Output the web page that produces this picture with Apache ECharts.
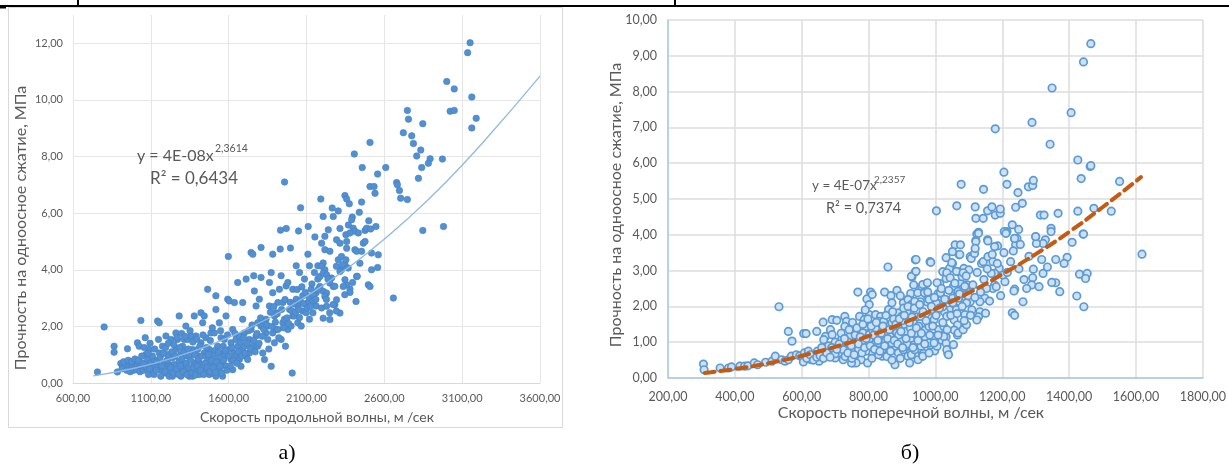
<!DOCTYPE html>
<html><head><meta charset="utf-8">
<script src="https://cdn.jsdelivr.net/npm/echarts@6/dist/echarts.min.js"></script>
<style>html,body{margin:0;padding:0;background:#fff}#c{width:1229px;height:467px}</style>
</head><body><div id="c"></div>
<script>
// ---------- Chart а): P-wave velocity vs strength ----------
const leftXAxisRange = [600, 3600, 500];
const leftYAxisRange = [0, 13, 2];
const leftXTitle = 'Скорость продольной волны, м /сек';
const leftYTitle = 'Прочность на одноосное сжатие, МПа';
const leftEquation = 'y = 4E-08x';
const leftExponent = '2,3614';
const leftR2 = 'R² = 0,6434';
const leftPoints = [
[757,0.39],[800,1.98],[864,1.30],[864,1.09],[885,0.39],
[907,0.69],[918,0.62],[928,0.53],[939,0.65],[961,0.59],[971,0.53],[982,0.62],[993,0.69],[1003,0.59],[950,1.21],[1014,1.42],[1025,1.30],
[1014,0.62],[1025,0.53],[1036,0.59],[1036,2.21],[1046,0.71],[1064,1.60],[1068,1.01],[1079,0.83],[1089,1.18],[1089,0.65],[1100,0.71],[1100,0.41],[1085,0.30],[1106,0.53],
[1121,0.30],[1121,0.83],[1132,0.59],[1143,2.19],[1149,1.54],[1154,2.13],[1154,1.06],[1164,0.47],[1175,1.30],[1186,0.71],[1197,1.66],[1197,0.35],[1207,1.01],[1207,0.59],[1218,0.65],[1218,0.24],[1164,0.24],
[1229,0.41],[1229,1.54],[1239,0.24],[1239,0.89],[1250,0.65],[1261,1.77],[1261,1.18],[1272,1.54],[1272,0.47],[1282,2.37],[1282,0.77],[1293,1.01],[1293,0.24],[1304,1.30],[1304,0.53],[1315,0.65],[1315,1.54],[1325,2.01],[1325,0.35],
[1336,1.54],[1336,0.95],[1347,0.95],[1347,0.24],[1358,0.47],[1358,1.66],[1368,0.24],[1368,1.18],[1379,2.37],[1379,0.71],[1390,1.66],[1390,0.41],[1400,1.18],[1400,0.95],[1411,0.71],[1411,0.30],[1422,2.48],[1422,1.42],[1433,2.13],[1433,0.59],
[1443,2.37],[1443,1.06],[1454,1.60],[1454,0.41],[1465,3.31],[1465,0.83],[1476,1.18],[1476,0.30],[1486,0.71],[1486,1.77],[1497,0.35],[1497,1.01],[1508,1.77],[1508,0.65],[1518,2.60],[1518,3.08],[1518,0.24],[1529,1.30],[1529,0.89],[1540,2.13],[1540,0.47],
[1551,1.60],[1551,0.71],[1561,0.24],[1561,1.06],[1572,0.95],[1572,1.54],[1583,2.37],[1583,0.59],[1594,2.96],[1598,4.47],[1604,2.90],[1604,1.18],[1615,1.42],[1615,0.83],[1626,1.89],[1626,0.47],[1637,2.84],[1637,1.06],[1647,0.95],[1647,1.54],
[1658,3.55],[1658,1.30],[1669,1.66],[1669,0.83],[1679,0.59],[1690,2.84],[1690,2.25],[1690,1.18],[1701,1.30],[1701,1.77],[1712,3.67],[1712,0.95],[1722,0.83],[1733,1.54],[1733,1.06],[1744,4.61],[1755,4.55],[1744,1.89],[1755,1.30],
[1761,3.79],[1765,3.25],[1776,2.72],[1776,1.66],[1787,1.30],[1787,2.13],[1797,2.96],[1808,3.73],[1808,4.79],[1808,2.01],[1819,2.01],[1819,1.06],[1830,0.83],[1830,2.19],[1840,2.25],[1840,1.77],[1851,1.54],[1851,2.01],[1862,2.72],[1862,3.55],
[1873,0.59],[1873,3.90],[1883,4.55],[1883,3.19],[1883,1.77],[1894,1.42],[1894,2.37],[1905,2.48],[1905,1.89],[1916,1.89],[1916,2.84],[1926,3.31],[1931,4.73],[1937,3.79],[1937,1.54],[1948,2.84],[1948,2.13],[1958,2.25],[1965,1.30],[1969,3.43],
[1980,3.55],[1980,1.89],[1991,2.60],[1997,4.77],[2001,2.01],[2008,0.35],[2012,3.31],[2012,2.37],[2023,2.37],[2034,4.14],[2034,2.96],[2044,2.72],[2044,2.13],[2055,3.90],[2055,2.31],[2066,2.01],[2076,3.08],[2076,2.54],
[2087,3.67],[2098,2.48],[2109,4.55],[2109,2.84],[2119,4.14],[2119,2.25],[2130,3.31],[2141,2.90],[2141,2.48],[2151,3.90],[2162,2.72],[2162,3.19],[2173,3.67],[2173,4.14],
[1959,7.10],[1933,5.40],[1970,5.46],[2049,5.37],[2062,6.19],
[2658,3.00],[2518,4.00],[2557,4.08],[2561,4.53],[2518,4.59],[2497,3.47],[2508,3.41],[2418,2.88],[2379,3.32],[2379,3.20],[2396,3.55],[2422,3.76],[2347,3.65],[2358,3.47],[2336,3.41],[2325,4.00],[2315,3.94],[2347,4.18],[2304,4.35],[2325,4.47],[2358,4.76],[2358,5.00],[2411,4.71],[2422,4.65],[2465,4.94],[2476,5.00],[2454,4.65],[2293,5.06],[2315,4.94],[2218,4.71],[2250,4.65],[2207,4.24],[2197,4.12],[2218,4.00],[2186,3.76],[2207,3.88],[2229,3.82],[2261,3.71],[2250,3.53],[2272,3.41],[2186,3.41],[2207,3.24],[2229,3.18],[2218,3.06],[2197,2.65],[2229,2.71],[2207,2.29],[2250,2.24],[2315,2.47],[2282,2.76],[2293,2.94],[2197,4.94],[2218,5.18],[2240,5.41],
[2238,3.67],[2282,3.42],[2292,4.12],[2331,4.18],[2368,4.06],[2353,4.35],[2346,3.12],[2426,3.77],[2443,4.23],[2271,2.77],[2249,2.48],[2292,2.54],[2228,2.95],
[3151,12.02],[3135,11.67],[3001,10.65],[3049,10.39],[3162,10.10],[3023,9.60],[3049,9.63],[3190,9.35],[3162,9.01],[2748,9.63],[2755,9.32],[2847,9.16],[2722,8.84],[2776,8.73],[2787,8.46],[2834,8.23],[2808,8.02],[2894,7.92],[2883,7.76],[2840,7.61],[2973,7.91],[2819,7.23],[2679,7.08],[2684,7.00],[2697,6.80],[2705,6.53],[2748,6.48],[2508,8.50],[2407,8.09],[2458,7.61],[2609,7.61],[2557,7.38],[2508,6.94],[2534,6.94],[2540,6.70],[2192,6.50],[2347,6.62],[2358,6.50],[2375,6.33],[2454,6.39],[2265,6.18],[2304,6.08],[2272,5.88],[2207,5.88],[2439,6.03],[2394,5.86],[2390,5.77],[2500,5.73],[2111,5.53],[2154,5.16],[2315,5.46],[2369,5.58],[2400,5.47],[2411,5.36],[2433,5.30],[2476,5.39],[2486,5.47],[2512,5.44],[2546,5.53],[2353,5.24],[2379,5.30],[2847,5.39],[2980,5.53],
[1110,0.95],[1125,1.20],[1135,0.45],[1140,0.75],[1160,0.90],[1170,0.60],[1180,1.05],[1190,0.40],[1195,1.25],[1205,0.80],[1212,1.40],[1225,0.55],[1235,1.10],[1245,0.35],[1248,1.35],[1255,0.95],[1265,0.50],[1268,1.60],[1278,0.30],[1285,1.25],[1290,0.60],[1298,1.75],[1300,0.85],[1310,0.40],[1312,1.10],[1320,1.65],[1328,0.70],[1332,0.30],[1340,1.20],[1345,0.55],[1352,1.85],[1355,0.80],[1362,0.35],[1370,1.45],[1375,0.55],[1382,1.00],[1385,0.28],[1395,1.55],[1398,0.60],[1405,0.85],[1415,1.30],[1418,0.45],[1428,0.95],[1435,1.70],[1440,0.30],[1448,0.70],[1458,1.25],[1462,0.55],[1470,1.00],[1480,0.40],[1482,1.50],[1490,0.80],[1495,1.95],[1502,0.55],[1512,1.15],[1515,0.38],[1522,0.75],[1535,1.10],[1545,0.60],[1548,1.85],[1555,0.35],[1565,1.30],[1568,0.80],[1578,1.15],[1588,0.45],[1592,1.70],[1600,0.95],[1610,0.60],[1620,1.25],[1630,0.80],[1640,1.75],[1652,0.70],[1662,1.10],[1675,1.45],[1685,0.95],[1695,1.60],[1705,1.05],[1718,1.40],[1728,1.85],[1740,1.20],[1750,2.05],[1760,1.50],[1770,1.10],[1782,1.75],[1795,1.40],[1805,2.30],[1815,1.65],[1825,1.90],[1845,2.05],[1858,1.20],[1868,2.50],[1878,2.00],[1890,2.70],[1900,2.15],[1912,2.45],[1922,1.60],[1940,2.60],[1952,1.95],[1962,2.95],[1975,2.30],[1985,2.10],[1995,2.85],[2005,2.55],[2018,2.80],[2030,2.50],[2040,3.30],[2050,2.60],[2060,2.90],[2070,3.40],[2082,2.80],[2092,3.20],[2105,2.65],[2115,3.05],[2125,2.70],[2135,3.50],[2145,3.10],[2160,2.95],[2175,3.30],
[915,0.50],[925,0.75],[945,0.45],[955,0.80],[968,0.40],[978,0.75],[990,0.45],[998,0.85],[1008,0.48],[1020,0.80],[1030,0.40],[1042,0.95],[1052,0.45],[1058,1.25],[1072,0.55],[1082,1.05],[1092,0.50],[1095,1.40]
];
const leftTrend = [[730,0.25],[1000,0.53],[1250,0.90],[1500,1.38],[1750,1.99],[2000,2.73],[2250,3.61],[2500,4.63],[2750,5.80],[3000,7.12],[3250,8.60],[3600,10.84]];

// ---------- Chart б): S-wave velocity vs strength ----------
const rightXAxisRange = [200, 1800, 200];
const rightYAxisRange = [0, 10, 1];
const rightXTitle = 'Скорость поперечной волны, м /сек';
const rightYTitle = 'Прочность на одноосное сжатие, МПа';
const rightEquation = 'y = 4E-07x';
const rightExponent = '2,2357';
const rightR2 = 'R² = 0,7374';
const rightPoints = [
[1465,9.34],[1443,8.83],[1349,8.10],[1406,7.41],[1179,6.96],[1289,7.14],[1343,6.53],[1426,6.09],[1463,5.91],[1465,5.93],[1436,5.57],[1551,5.49],[1205,5.75],[1214,5.41],[1077,5.41],[1144,5.27],[1247,5.18],[1278,5.34],[1291,5.38],[1293,5.52],[1003,4.67],[1064,4.81],[1119,4.78],[1121,4.46],[1143,4.46],[1156,4.67],[1169,4.78],[1179,4.55],[1194,4.60],[1194,4.72],[1240,4.77],[1260,4.88],[1314,4.55],[1325,4.55],[1367,4.60],[1426,4.66],[1474,4.74],[1526,4.66],[1230,4.28],[1249,4.15],[1214,4.09],[1211,4.05],[1129,4.07],[1124,4.02],[1346,4.18],[1442,4.02],[1300,3.94],[1329,3.86],[1237,3.89],[1156,3.86],[1121,3.84],
[1618,3.46],[1443,4.02],[1409,3.79],[1394,3.37],[1385,3.20],[1431,2.90],[1454,2.92],[1449,2.78],[1423,2.29],[1444,1.99],[1372,2.41],[1360,2.66],[1348,2.67],[1322,2.92],[1360,3.31],[1346,4.09],[1322,3.76],[1302,3.76],[1300,3.95],[1318,3.31],[1293,3.04],[1291,2.80],[1288,2.60],[1273,2.50],[1262,2.13],[1237,2.48],[1235,2.43],[1230,1.82],[1237,1.75],[1208,2.69],[1201,2.88],[1191,3.06],[1177,2.92],[1186,3.69],[1177,3.67],[1157,3.83],[1138,3.20],[1143,3.25],[1206,4.09],[1211,4.04],[1240,3.72],[1233,3.55],[1244,3.90],[1254,3.73],[1237,3.90],[1129,4.04],[1121,3.81],[1157,3.39],[1172,3.25],[1167,2.92],[1177,2.60],[1172,2.50],[1182,2.55],[1153,2.50],[1148,2.23],[1133,2.13],[1133,1.85],[1150,1.81],[1129,1.71],[1124,1.62],[1109,1.90],[1104,2.13],[1090,2.18],[1095,2.41],[1075,2.64],[1061,2.46],[1051,2.23],[1069,2.23],[1056,1.99],[1042,1.90],[1027,1.85],[1059,3.72],[1071,3.44],[1051,3.20],[1042,3.06],[1022,2.97],[1032,2.78],[1013,2.64],[1104,3.39],[1107,3.34],[1085,3.06],[1100,3.02],[1066,2.97],[1080,2.83],[1075,2.46],[1095,2.60],[1032,2.18],[1017,2.27],[1008,2.36],[1022,1.99],[1003,2.09],[993,1.90],[988,1.67],[979,1.53],[1056,1.62],[1066,1.48],[1056,1.34],[1066,1.20],[1032,1.15],[1017,1.06],[998,1.06],[1032,0.97],[1037,0.69],[998,0.76],[984,0.92],[969,1.15],[964,1.34],[964,0.69],[959,0.60],[940,3.30],[940,2.97],[930,2.83],[935,2.60],[959,2.55],[974,2.64],[969,2.36],[974,2.13],[955,2.13],[984,3.25],[926,2.36],[916,2.18],[940,2.09],[926,1.90],[911,1.71],[945,1.71],[935,1.53],[955,1.34],[969,1.34],[945,1.15],[926,1.06],[935,0.92],[930,0.78],[921,0.69],[940,0.64],[1075,3.72],[1051,3.53],[1117,3.48],[1119,3.62],
[306,0.39],[308,0.23],[356,0.28],[381,0.28],[390,0.31],[415,0.33],[429,0.33],[439,0.34],[458,0.42],[468,0.37],[492,0.44],[511,0.47],[521,0.61],[540,0.51],[550,0.47],[560,0.51],[569,0.61],[584,0.65],[594,0.62],[603,0.56],[608,0.70],[618,0.61],[628,0.51],[637,0.62],[647,0.75],[652,0.47],[661,0.70],[671,0.79],[676,0.61],[686,0.70],[695,0.79],[700,0.56],[710,0.70],
[532,1.99],[560,1.30],[571,1.03],[606,1.24],[613,1.24],[645,1.30],[664,1.56],[691,1.63],[705,1.61],[686,1.35],[671,1.16],[666,1.07],[691,1.21],
[729,1.72],[734,1.58],[729,1.44],[754,1.44],[758,1.30],[744,1.16],[763,1.07],[734,0.98],[715,0.89],[724,0.79],[744,0.70],[754,0.84],[763,0.61],[778,0.51],[754,0.42],[724,0.51],
[768,2.40],[795,2.21],[806,2.40],[811,2.33],[802,2.05],[848,2.40],[867,2.30],[858,3.10],
[773,1.72],[787,1.63],[802,1.77],[821,1.77],[836,1.72],[831,1.58],[816,1.49],[792,1.44],[783,1.26],[802,1.21],[826,1.30],[841,1.35],[855,1.44],[870,1.54],[879,1.72],[860,1.91],[889,1.82],[899,1.72],
[802,1.07],[816,0.93],[831,0.98],[841,0.79],[860,0.84],[879,0.89],[889,0.70],[904,0.79],[918,0.61],[928,0.65],[938,0.79],[948,0.51],[923,0.42],[879,0.37],[841,0.61],[811,0.70],[792,0.75],[763,0.42],[749,0.42],[797,0.42],
[904,2.10],[918,2.19],[928,2.05],[938,2.14],[947,2.38],[928,2.84],[942,2.98],[942,3.31],[986,3.23],[962,2.61],[976,2.66],[967,2.38],[981,2.19],[1005,2.66],[1015,2.38],[1032,3.36],[1049,3.22],[1073,3.45],[1063,2.98],[1034,2.94],[1044,2.80],[1054,2.56],[1083,2.94],[1088,2.56],[1093,2.33],[1068,2.42],
[957,1.72],[981,1.44],[996,1.63],[1010,1.35],[1034,1.72],[1025,1.44],[996,1.16],[981,0.98],[1005,0.89],[1034,0.79],[1054,0.93],[1068,1.26],[1083,1.35],[1093,1.49],[1088,1.77],[1063,1.91],[1093,2.10],[957,0.89],[962,0.61],[981,0.70],[996,0.98],[1025,1.16],[1039,0.65],
[812,1.35],[826,1.12],[850,1.02],[865,1.16],[884,1.26],[894,1.40],[909,1.49],[913,1.30],[899,1.07],[870,0.98],[846,1.21],[821,1.40],[845,1.58],[875,1.65],[900,1.60],[915,1.85],[930,1.70],[925,1.40],[940,1.25],[950,1.45],[885,2.45],[895,2.30],[870,2.10],[905,1.95],[790,1.90],[760,1.20],[740,1.00],[720,1.10],[700,1.00],[680,0.90],[660,0.85],[640,0.65],[620,0.75],[700,0.68],[730,0.60],[750,0.55],[770,0.80],[785,1.00],[810,0.55],[830,0.65],[855,0.60],[870,0.50],[895,0.55],[915,0.95],[890,1.20],
[605,0.45],[615,0.55],[625,0.65],[635,0.50],[645,0.58],[655,0.62],[665,0.55],[675,0.70],[685,0.58],[690,0.85],[705,0.80],[712,0.95],[718,1.25],[728,1.10],[738,0.70],[742,1.35],[748,0.90],[752,1.55],[757,0.65],[765,1.40],[770,0.95],[775,1.15],[780,0.70],[783,1.50],[788,0.85],[793,1.10],[798,1.65],[805,0.90],[808,1.45],[815,1.20],[818,0.80],[823,1.55],[828,1.05],[834,0.75],[838,1.25],[843,1.45],[848,0.90],[852,1.75],[857,1.10],[862,1.35],[866,0.75],[872,1.85],[877,1.05],[882,1.50],[887,0.95],[892,1.65],[897,1.30],[902,0.85],[907,1.75],[912,1.10],[918,2.00],[922,1.55],[928,1.25],[933,0.85],[937,1.95],[943,1.40],[948,1.05],[953,2.05],[958,1.25],[963,1.85],[968,0.95],[972,1.60],[977,2.40],[983,1.20],[988,2.00],[992,1.45],[997,2.25],[1002,1.75],[1008,1.20],[1012,1.95],[1018,2.50],[1022,1.55],[1028,2.20],[1035,1.35],[1040,2.45],[1046,1.75],[1052,2.10],[1058,2.65],[1065,1.80],[1072,2.35],[1080,2.00],[1086,1.60],[1092,2.85],[1098,2.30],[1105,1.75],[1112,2.60],[1118,2.25],[1125,2.95],[1135,2.40],[1145,2.75],[1155,3.05],[1162,2.15],[1170,3.45],[1185,3.20],[1195,2.30],[1205,3.50],[1215,2.95],[1225,3.25],[1250,3.05],[1265,2.75],[1280,3.40],[1310,2.55],[1335,3.10]
];
const rightTrend = [[310,0.14],[400,0.25],[500,0.41],[600,0.62],[700,0.87],[800,1.17],[900,1.52],[1000,1.93],[1100,2.38],[1200,2.90],[1300,3.46],[1400,4.08],[1500,4.77],[1615,5.61]];

// ---------- rendering ----------
const FONT = 'Lato, "Open Sans", sans-serif';
const GREY = '#595959';
const fmt = v => v.toFixed(2).replace('.', ',');

const chart = echarts.init(document.getElementById('c'), null, {renderer: 'canvas'});

function txt(text, x, y, size, extra) {
  return Object.assign({
    type: 'text', x: x, y: y, silent: true, z: 50,
    style: Object.assign({text: text, fill: GREY, fontSize: size, fontFamily: FONT, align: 'left', verticalAlign: 'middle'}, extra && extra.style)
  }, extra && extra.el);
}

chart.setOption({
  animation: false,
  backgroundColor: '#fff',
  grid: [
    {left: 73, top: 15, width: 467, height: 368, containLabel: false},
    {left: 668, top: 20, width: 554, height: 358, containLabel: false}
  ],
  xAxis: [
    {type: 'value', gridIndex: 0, min: leftXAxisRange[0], max: leftXAxisRange[1], interval: leftXAxisRange[2],
     axisLine: {show: true, lineStyle: {color: '#d9d9d9'}}, axisTick: {show: false},
     splitLine: {show: true, lineStyle: {color: '#e6e6e6'}},
     axisLabel: {color: GREY, fontSize: 11, fontFamily: FONT, margin: 10, formatter: fmt}},
    {type: 'value', gridIndex: 1, min: rightXAxisRange[0], max: rightXAxisRange[1], interval: rightXAxisRange[2],
     axisLine: {show: true, lineStyle: {color: '#a9c8e8', width: 1.5}}, axisTick: {show: false},
     splitLine: {show: true, lineStyle: {color: '#dcdcdc', width: 1.5}},
     axisLabel: {color: GREY, fontSize: 12.5, fontFamily: FONT, margin: 12, formatter: fmt, hideOverlap: false}}
  ],
  yAxis: [
    {type: 'value', gridIndex: 0, min: leftYAxisRange[0], max: leftYAxisRange[1], interval: leftYAxisRange[2],
     axisLine: {show: false}, axisTick: {show: false},
     splitLine: {show: true, showMaxLine: false, lineStyle: {color: '#e6e6e6'}},
     axisLabel: {color: GREY, fontSize: 11, fontFamily: FONT, margin: 10, showMaxLabel: false,
       formatter: v => (v > 12 ? '' : fmt(v))}},
    {type: 'value', gridIndex: 1, min: rightYAxisRange[0], max: rightYAxisRange[1], interval: rightYAxisRange[2],
     axisLine: {show: true, lineStyle: {color: '#a9c8e8', width: 1.5}}, axisTick: {show: false},
     splitLine: {show: true, lineStyle: {color: '#dcdcdc', width: 1.5}},
     axisLabel: {color: GREY, fontSize: 12.5, fontFamily: FONT, margin: 11, formatter: fmt}}
  ],
  series: [
    {type: 'scatter', xAxisIndex: 0, yAxisIndex: 0, data: leftPoints, symbolSize: 6.5, z: 2,
     itemStyle: {color: '#5191d3', borderColor: '#4680c0', borderWidth: 0.6, opacity: 1}},
    {type: 'line', xAxisIndex: 0, yAxisIndex: 0, data: leftTrend, smooth: true, showSymbol: false, z: 3,
     lineStyle: {color: '#8fb9e3', width: 1.3}},
    {type: 'scatter', xAxisIndex: 1, yAxisIndex: 1, data: rightPoints, symbolSize: 7.5, z: 2,
     itemStyle: {color: '#cfe0f3', borderColor: '#5b9bd5', borderWidth: 1.7, opacity: 1}},
    {type: 'line', xAxisIndex: 1, yAxisIndex: 1, data: rightTrend, smooth: true, showSymbol: false, z: 3,
     lineStyle: {color: '#c55a11', width: 4, type: [10, 6], cap: 'round'}}
  ],
  graphic: [
    // table borders
    {type: 'line', silent: true, shape: {x1: 0, y1: 6, x2: 1229, y2: 6}, style: {stroke: '#000', lineWidth: 2}},
    {type: 'line', silent: true, shape: {x1: 0, y1: 7.5, x2: 6, y2: 7.5}, style: {stroke: '#000', lineWidth: 2}},
    {type: 'line', silent: true, shape: {x1: 78, y1: 0, x2: 78, y2: 6}, style: {stroke: '#000', lineWidth: 2}},
    {type: 'line', silent: true, shape: {x1: 675, y1: 0, x2: 675, y2: 6}, style: {stroke: '#000', lineWidth: 2}},
    // left chart frame
    {type: 'rect', silent: true, z: -10, shape: {x: 8.5, y: 7.5, width: 554, height: 420}, style: {fill: 'none', stroke: '#d9d9d9', lineWidth: 1}},
    // axis titles
    txt(leftXTitle, 317, 417, 14, {style: {align: 'center'}}),
    txt(leftYTitle, 21, 228, 16, {style: {align: 'center'}, el: {rotation: Math.PI / 2}}),
    txt(rightXTitle, 911, 413, 16, {style: {align: 'center'}}),
    txt(rightYTitle, 616, 205, 16, {style: {align: 'center'}, el: {rotation: Math.PI / 2}}),
    // equations
    txt(leftEquation, 137, 156, 16),
    txt(leftExponent, 215, 149, 10.5),
    txt(leftR2, 150, 179, 17),
    txt(rightEquation, 812, 186, 13.5),
    txt(rightExponent, 874, 180, 10),
    txt(rightR2, 826, 208, 14.5),
    // panel captions
    txt('а)', 287, 453, 22, {style: {align: 'center', fill: '#000', fontFamily: '"Liberation Serif", "DejaVu Serif", serif'}}),
    txt('б)', 910, 453, 22, {style: {align: 'center', fill: '#000', fontFamily: '"Liberation Serif", "DejaVu Serif", serif'}})
  ]
});
</script>
</body></html>
